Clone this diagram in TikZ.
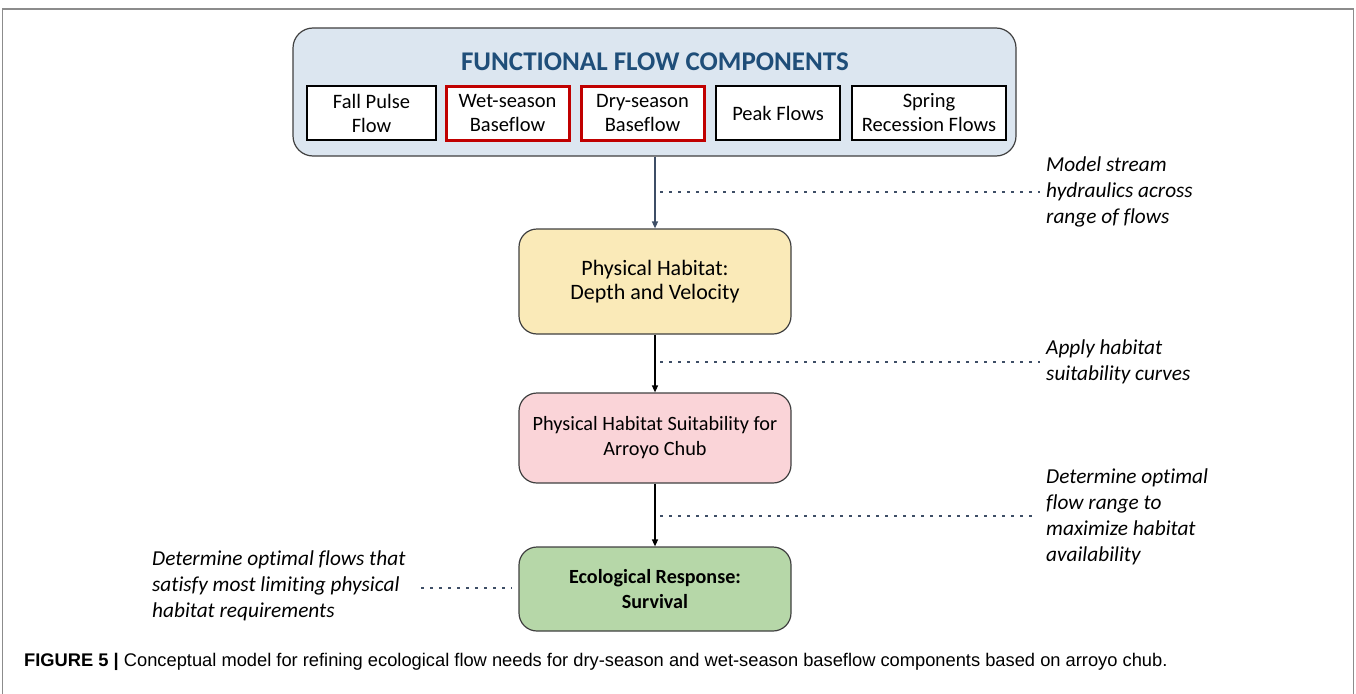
\documentclass[tikz,border=0pt]{standalone}
\usepackage{fontspec}
\setmainfont{Carlito}[Ligatures=NoCommon]
\newfontfamily\capfont{Liberation Sans}
\usetikzlibrary{arrows.meta}
\definecolor{framegray}{HTML}{8C8C8C}
\definecolor{topfill}{HTML}{DCE6F0}
\definecolor{titleblue}{HTML}{1F4E79}
\definecolor{boxred}{HTML}{C00000}
\definecolor{slate}{HTML}{3E4E66}
\definecolor{yellowfill}{HTML}{FAEAB8}
\definecolor{pinkfill}{HTML}{FAD4D8}
\definecolor{greenfill}{HTML}{B6D7A8}
\definecolor{edgegray}{HTML}{404040}
\tikzset{
  mainbox/.style={draw=edgegray, line width=1.2pt, rounded corners=18pt, minimum width=272pt, align=center, inner sep=0pt, font=\fontsize{20.3}{25}\selectfont},
  compbox/.style={draw=black, line width=1.6pt, fill=white, minimum height=54pt, align=center, inner sep=0pt, font=\fontsize{20.5}{24}\selectfont},
  redbox/.style={compbox, draw=boxred, line width=3pt},
  note/.style={align=left, inner sep=0pt, font=\fontsize{21.3}{26}\selectfont\itshape},
  flowarrow/.style={line width=1.4pt, -{Triangle[length=7pt,width=6pt]}},
  dotline/.style={draw=slate, line width=2.6pt, dash pattern=on 2.6pt off 6.4pt},
}
\begin{document}
\begin{tikzpicture}[x=1pt, y=-1pt]
\useasboundingbox (0,0) rectangle (1356,693);
% frame
\draw[framegray, line width=1.2pt] (2.5,700) -- (2.5,9) -- (1353.5,9) -- (1353.5,700);
% top box
\node[draw=edgegray, line width=1.2pt, fill=topfill, rounded corners=20pt, minimum width=723pt, minimum height=128pt, inner sep=0pt] (top) at (654.5,92) {};
\node[font=\fontsize{27}{30}\selectfont\bfseries, text=titleblue, inner sep=0pt] (title) at (655,62) {FUNCTIONAL FLOW COMPONENTS};
\node[compbox, minimum width=129pt] (fall) at (371.5,113) {Fall Pulse\\Flow};
\node[redbox, minimum width=123pt] (wet) at (507.5,113) {Wet-season\\Baseflow};
\node[redbox, minimum width=123pt] (dry) at (642.5,113) {Dry-season\\Baseflow};
\node[compbox, minimum width=124pt] (peak) at (778,113) {Peak Flows};
\node[compbox, minimum width=154pt] (spring) at (929,113) {Spring\\Recession Flows};
% main boxes
\node[mainbox, fill=yellowfill, minimum height=105pt, font=\fontsize{22}{24}\selectfont] (phys) at (655,281.5) {Physical Habitat:\\Depth and Velocity};
\node[mainbox, fill=pinkfill, minimum height=90pt] (suit) at (655,438) {Physical Habitat Suitability for\\Arroyo Chub};
\node[mainbox, fill=greenfill, minimum height=84pt, font=\fontsize{20.1}{25}\selectfont\bfseries] (eco) at (655,589) {Ecological Response:\\Survival};
% arrows
\draw[flowarrow, draw=slate, fill=slate] (top.south -| phys.north) -- (phys.north);
\draw[flowarrow] (phys.south) -- (suit.north);
\draw[flowarrow] (suit.south) -- (eco.north);
% annotations
\node[note, anchor=west] (n1) at (1046,192) {Model stream\\hydraulics across\\range of flows};
\node[note, anchor=west] (n2) at (1046,362) {Apply habitat\\suitability curves};
\node[note, anchor=west] (n3) at (1046,517) {Determine optimal\\flow range to\\maximize habitat\\availability};
\node[note, anchor=west] (n4) at (152,586) {Determine optimal flows that\\satisfy most limiting physical\\habitat requirements};
\coordinate (d1) at (660,192);
\coordinate (d2) at (660,362);
\coordinate (d3) at (660,516);
\coordinate (d4) at (421,588);
\draw[dotline, shorten >=6pt] (d1) -- (d1 -| n1.west);
\draw[dotline, shorten >=6pt] (d2) -- (d2 -| n2.west);
\draw[dotline, shorten >=12pt] (d3) -- (d3 -| n3.west);
\draw[dotline, shorten >=6pt] (d4) -- (d4 -| eco.west);
% caption
\node[anchor=base west, inner sep=0pt, font=\capfont\fontsize{18.3}{22}\selectfont] (cap) at (24,666) {\textbf{FIGURE 5 |} Conceptual model for refining ecological flow needs for dry-season and wet-season baseflow components based on arroyo chub.};
\end{tikzpicture}
\end{document}
